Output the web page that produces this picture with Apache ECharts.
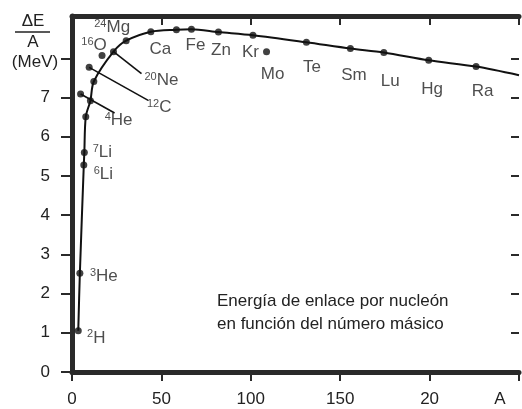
<!DOCTYPE html>
<html><head><meta charset="utf-8">
<script src="https://cdn.jsdelivr.net/npm/echarts@6/dist/echarts.min.js"></script>
<style>html,body{margin:0;padding:0;background:#fff}#c{width:522px;height:409px}</style>
</head><body><div id="c"></div>
<script>
// Binding-energy curve (on-curve points), A vs ΔE/A (MeV)
const curveA = [3.5, 4.4, 6.6, 6.9, 7.7, 10.3, 12.2, 23.2, 30.3, 44.1, 58.4, 66.8, 81.9, 101.2, 131.1, 155.7, 174.4, 199.5, 226.0, 250];
const curveE = [1.05, 2.52, 5.28, 5.60, 6.51, 6.92, 7.41, 8.17, 8.45, 8.68, 8.73, 8.74, 8.67, 8.59, 8.41, 8.25, 8.15, 7.95, 7.79, 7.57];

// Marked nuclides
const pointA = [3.5, 4.4, 6.6, 6.9, 7.7, 4.8, 10.3, 12.2, 9.6, 16.8, 23.2, 30.3, 44.1, 58.4, 66.8, 81.9, 101.2, 108.8, 131.1, 155.7, 174.4, 199.5, 226.0];
const pointE = [1.05, 2.52, 5.28, 5.60, 6.51, 7.09, 6.92, 7.41, 7.77, 8.07, 8.17, 8.45, 8.68, 8.73, 8.74, 8.67, 8.59, 8.17, 8.41, 8.25, 8.15, 7.95, 7.79];
const pointMass = ['2','3','6','7','','4','','','12','16','20','24','','','','','','','','','','',''];
const pointSymbol = ['H','He','Li','Li','','He','','','C','O','Ne','Mg','Ca','','Fe','Zn','Kr','Mo','Te','Sm','Lu','Hg','Ra'];

// Tick labels
const xTickLabels = ['0','50','100','150','20'];
const yTickLabels = ['0','1','2','3','4','5','6','7'];
const xAxisName = 'A';
const yTitleTop = 'ΔE', yTitleBottom = 'A', yTitleUnit = '(MeV)';
const noteLines = ['Energía de enlace por nucleón', 'en función del número másico'];

// Layout (pixel offsets of labels / leader lines relative to their points)
const labelOffset = [[18,7],[24,3],[19.5,9.5],[18,0],null,[38,26.5],null,null,[70,40],[-8,-10],[48,29],[-14,-13],[9.5,18],null,[4,16],[2.5,18],[-2.5,17],[6,23],[5.5,25],[3.5,26.5],[6.5,29],[3.5,29],[6.5,25]];
const leaderIdx = [5, 8, 10];
const leaderEnd = [[34,19],[59,33],[28,22]];

const FONT = "'Liberation Sans', Arial, sans-serif";
const INK = '#222';
const AX = '#2a2a2a';

const chart = echarts.init(document.getElementById('c'), null, {renderer: 'canvas'});

const pointData = pointA.map((a, i) => {
  const d = {value: [a, pointE[i]]};
  const off = labelOffset[i];
  if (off && pointSymbol[i]) {
    d.label = {show: true, position: 'inside', align: 'center', verticalAlign: 'middle', offset: off,
      formatter: pointMass[i] ? `{s|${pointMass[i]}}{n|${pointSymbol[i]}}` : `{n|${pointSymbol[i]}}`};
  }
  return d;
});

const option = {
  backgroundColor: '#fff',
  animation: false,
  grid: {left: 72, right: -2, top: 16, bottom: 37, containLabel: false},
  xAxis: [{
    type: 'value', min: 0, max: 250, interval: 50, position: 'bottom',
    axisLine: {show: true, onZero: false, lineStyle: {color: AX, width: 5}},
    axisTick: {show: true, inside: false, length: 9, lineStyle: {color: AX, width: 2}},
    axisLabel: {show: true, margin: 19, color: INK, fontFamily: FONT, fontSize: 17,
      formatter: v => (xTickLabels[Math.round(v/50)] !== undefined && v % 50 === 0) ? xTickLabels[Math.round(v/50)] : ''},
    splitLine: {show: false}
  }, {
    type: 'value', min: 0, max: 250, interval: 50, position: 'top',
    axisLine: {show: true, onZero: false, lineStyle: {color: AX, width: 5}},
    axisTick: {show: true, inside: true, length: 9, lineStyle: {color: AX, width: 2}},
    axisLabel: {show: false}, splitLine: {show: false}
  }],
  yAxis: [{
    type: 'value', min: 0, max: 9.08, interval: 1, position: 'left',
    axisLine: {show: true, onZero: false, lineStyle: {color: AX, width: 5}},
    axisTick: {show: true, inside: false, length: 11, lineStyle: {color: AX, width: 2}, customValues: [0,1,2,3,4,5,6,7,8]},
    axisLabel: {show: true, margin: 22, color: INK, fontFamily: FONT, fontSize: 17, customValues: [0,1,2,3,4,5,6,7],
      formatter: v => yTickLabels[Math.round(v)] || ''},
    splitLine: {show: false}
  }, {
    type: 'value', min: 0, max: 9.08, interval: 1, position: 'right',
    axisLine: {show: false, onZero: false},
    axisTick: {show: true, inside: true, length: 8, lineStyle: {color: AX, width: 2}, customValues: [1,2,3,4,5,6,7,8]},
    axisLabel: {show: false}, splitLine: {show: false}
  }],
  series: [{
    type: 'line', data: curveA.map((a, i) => [a, curveE[i]]),
    smooth: 0.3, showSymbol: false, symbol: 'none',
    lineStyle: {color: '#111', width: 2}, z: 2
  }, {
    type: 'scatter', data: pointData, symbol: 'circle', symbolSize: 7,
    itemStyle: {color: '#111'}, z: 3,
    label: {show: false, color: INK, fontFamily: FONT,
      rich: {
        s: {fontSize: 11, fontFamily: FONT, color: INK, verticalAlign: 'top', lineHeight: 18},
        n: {fontSize: 17, fontFamily: FONT, color: INK, lineHeight: 18}
      }}
  }]
};
chart.setOption(option);

const graphics = [];
// leader lines
leaderIdx.forEach((idx, k) => {
  const p = chart.convertToPixel({gridIndex: 0}, [pointA[idx], pointE[idx]]);
  graphics.push({type: 'line', shape: {x1: p[0], y1: p[1], x2: p[0] + leaderEnd[k][0], y2: p[1] + leaderEnd[k][1]},
    style: {stroke: '#111', lineWidth: 1.6}, z: 5});
});
// y-axis title
graphics.push({type: 'text', x: 33, y: 21, style: {text: yTitleTop, font: `17px ${FONT}`, fill: INK, align: 'center', verticalAlign: 'middle'}});
graphics.push({type: 'line', shape: {x1: 15, y1: 32, x2: 50, y2: 32}, style: {stroke: INK, lineWidth: 1.5}});
graphics.push({type: 'text', x: 33, y: 42, style: {text: yTitleBottom, font: `17px ${FONT}`, fill: INK, align: 'center', verticalAlign: 'middle'}});
graphics.push({type: 'text', x: 35, y: 62, style: {text: yTitleUnit, font: `17px ${FONT}`, fill: INK, align: 'center', verticalAlign: 'middle'}});
// x-axis name
graphics.push({type: 'text', x: 500, y: 399, style: {text: xAxisName, font: `17px ${FONT}`, fill: INK, align: 'center', verticalAlign: 'middle'}});
// note
graphics.push({type: 'text', x: 217, y: 290, style: {text: noteLines.join('\n'), font: `17px ${FONT}`, lineHeight: 23, fill: INK, align: 'left', verticalAlign: 'top'}});
chart.setOption({graphic: graphics});
</script>
</body></html>
